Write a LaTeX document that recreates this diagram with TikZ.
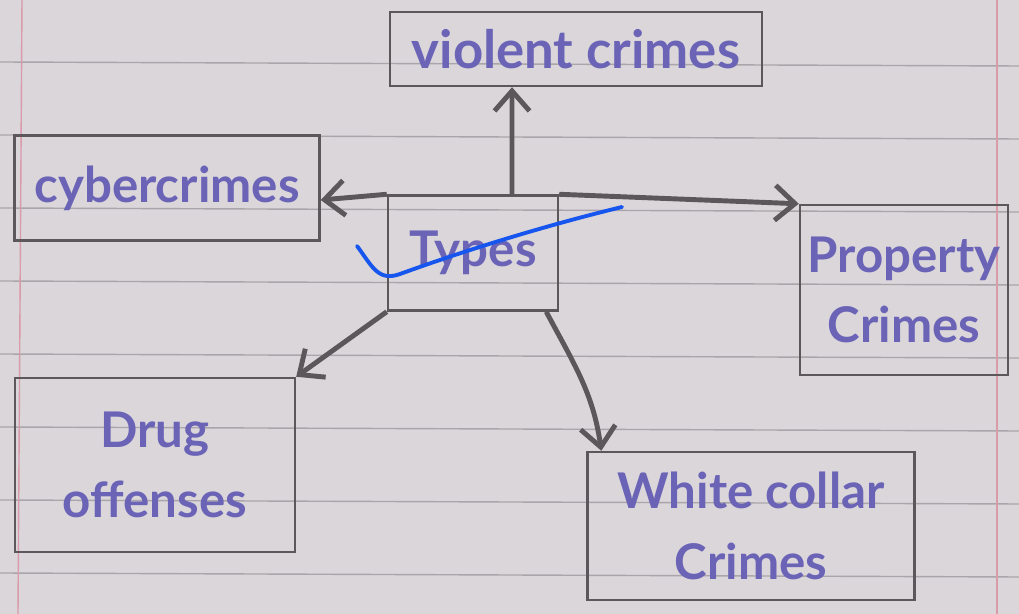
\documentclass[tikz,border=0pt]{standalone}
\usepackage{fontspec}
\setmainfont{Lato}
\usetikzlibrary{arrows.meta,positioning}

\definecolor{paper}{HTML}{DAD6DA}
\definecolor{ruled}{HTML}{A9A5AA}
\definecolor{margin}{HTML}{D99AAA}
\definecolor{pencil}{HTML}{5B575B}
\definecolor{ink}{HTML}{6A63B6}
\definecolor{marker}{HTML}{1656EE}

\begin{document}
\begin{tikzpicture}[x=0.02cm,y=-0.02cm]
 	\tikzstyle{topic}=[rectangle, draw=pencil, line width=1.4pt, text=ink, font=\fontsize{28}{40}\selectfont\bfseries, align=center, inner sep=0pt]
 	\tikzstyle{connect}=[-{Straight Barb[length=4mm,width=7mm]}, line width=2.8pt, draw=pencil]
 	\tikzstyle{rule}=[draw=ruled, line width=0.8pt]
 	% notebook page
 	\fill[paper] (0,0) rectangle (1019,614);
 	\useasboundingbox (0,0) rectangle (1019,614);
 	\foreach \y in {62,135,...,614} \draw[rule] (0,\y) -- (1019,\y+4);
 	\draw[draw=margin, line width=0.8pt] (22,0) -- (18,614);
 	\draw[draw=margin, line width=0.8pt] (997,0) -- (997,614);
 	% boxes
 	\node[topic, minimum width=3.4cm, minimum height=2.3cm, font=\fontsize{28}{40}\selectfont\bfseries] (types) at (473,253) {Types};
 	\node[topic, minimum width=7.44cm, minimum height=1.48cm, font=\fontsize{30}{40}\selectfont\bfseries] (violent) at (576,49) {violent crimes};
 	\node[topic, minimum width=6.1cm, minimum height=2.1cm] (cyber) at (167,188) {cybercrimes};
 	\node[topic, minimum width=4.16cm, minimum height=3.4cm] (property) at (904,290) {Property\\Crimes};
 	\node[topic, minimum width=5.6cm, minimum height=3.48cm] (drug) at (155,465) {Drug\\offenses};
 	\node[topic, minimum width=6.54cm, minimum height=2.96cm] (white) at (751,526) {White collar\\Crimes};
 	% arrows
 	\draw[connect] ([xshift=0.78cm]types.north) -- ([xshift=-1.28cm]violent.south);
 	\draw[connect] (types.north west) -- ([yshift=-0.24cm]cyber.east);
 	\draw[connect] (types.north east) -- (property.north west);
 	\draw[connect] (types.south west) -- (drug.north east);
 	\draw[connect] ([xshift=-0.26cm]types.south east) to[out=-62, in=98] ([xshift=0.3cm]white.north west);
 	% blue tick
 	\draw[draw=marker, line width=2.2pt, line cap=round] (357,246) .. controls (372,266) and (378,282) .. (400,274) .. controls (480,245) and (560,222) .. (622,207);
\end{tikzpicture}
\end{document}
